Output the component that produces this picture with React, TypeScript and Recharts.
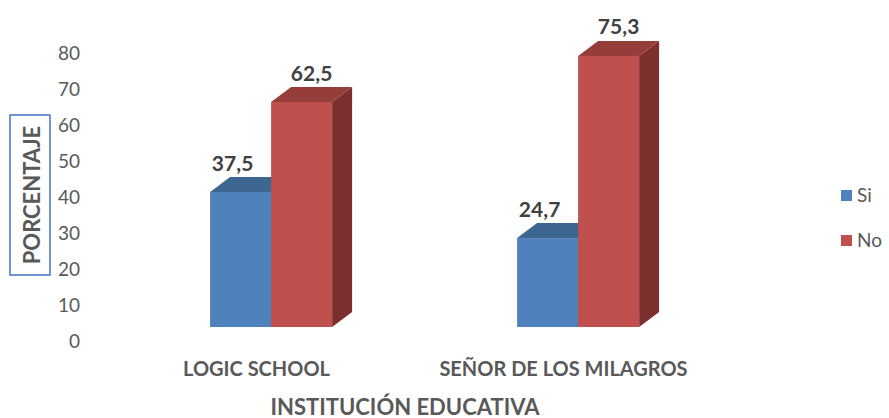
import React from "react";
import { BarChart, Bar, XAxis, YAxis, Legend, LabelList } from "recharts";

const CATEGORIES = ["LOGIC SCHOOL", "SEÑOR DE LOS MILAGROS"];
const SI_VALUES = [37.5, 24.7];
const NO_VALUES = [62.5, 75.3];
const Y_TICKS = [0, 10, 20, 30, 40, 50, 60, 70, 80];

const FONT = "Lato, 'Open Sans', sans-serif";
const INK = "#595959";
const INK_DARK = "#404040";

const BLUE = { front: "#4F81BD", top: "#3D6691", side: "#2F5075" };
const RED = { front: "#C0504D", top: "#953D3B", side: "#7B302E" };

const DEPTH_X = 20;
const DEPTH_Y = 15;

const data = CATEGORIES.map((name, i) => ({ name, Si: SI_VALUES[i], No: NO_VALUES[i] }));

function bar3d(c: { front: string; top: string; side: string }) {
  return (props: any) => {
    const { x, y, width, height } = props;
    const r = x + width;
    const b = y + height;
    return (
      <g>
        <polygon
          points={`${r},${y} ${r + DEPTH_X},${y - DEPTH_Y} ${r + DEPTH_X},${b - DEPTH_Y} ${r},${b}`}
          fill={c.side}
        />
        <polygon
          points={`${x},${y} ${x + DEPTH_X},${y - DEPTH_Y} ${r + DEPTH_X},${y - DEPTH_Y} ${r},${y}`}
          fill={c.top}
        />
        <rect x={x} y={y} width={width} height={height} fill={c.front} />
      </g>
    );
  };
}

function valueLabel(shift: number) {
  return (props: any) => {
    const { x, y, width, value } = props;
    return (
      <text
        x={x + width / 2 + shift}
        y={y - 30}
        textAnchor="middle"
        dominantBaseline="central"
        fontFamily={FONT}
        fontWeight="bold"
        fontSize={21}
        fill={INK_DARK}
      >
        {String(value).replace(".", ",")}
      </text>
    );
  };
}

const YTick = ({ y, payload }: any) => (
  <text x={80} y={y + 13} textAnchor="end" dominantBaseline="central" fontFamily={FONT} fontSize={19} fill={INK}>
    {payload.value}
  </text>
);

const XTick = ({ x, y, payload }: any) => (
  <text
    x={x - 15}
    y={y + 41}
    textAnchor="middle"
    dominantBaseline="central"
    fontFamily={FONT}
    fontWeight="bold"
    fontSize={20}
    fill={INK}
  >
    {payload.value}
  </text>
);

const yTitle = () => (
  <g>
    <rect x={10} y={115} width={40} height={160} fill="none" stroke="#4472C4" strokeWidth={1.5} />
    <text
      x={31}
      y={195}
      transform="rotate(-90, 31, 195)"
      textAnchor="middle"
      dominantBaseline="central"
      fontFamily={FONT}
      fontWeight="bold"
      fontSize={22}
      fill={INK}
    >
      PORCENTAJE
    </text>
  </g>
);

const xTitle = (props: any) => {
  const vb = props.viewBox;
  return (
    <text
      x={vb.x + vb.width / 2 - 20}
      y={vb.y + 79}
      textAnchor="middle"
      dominantBaseline="central"
      fontFamily={FONT}
      fontWeight="bold"
      fontSize={22}
      fill={INK}
    >
      INSTITUCIÓN EDUCATIVA
    </text>
  );
};

const legendItems = [
  { name: "Si", color: BLUE.front },
  { name: "No", color: RED.front },
];

const renderLegend = () => (
  <div style={{ width: 48 }}>
    {legendItems.map((it, i) => (
      <div key={it.name} style={{ display: "flex", alignItems: "center", height: 22, marginTop: i ? 23 : 0 }}>
        <span style={{ width: 11, height: 11, background: it.color, display: "inline-block" }} />
        <span style={{ marginLeft: 5, fontFamily: FONT, fontSize: 19, color: INK, lineHeight: "22px" }}>{it.name}</span>
      </div>
    ))}
  </div>
);

export default function App() {
  return (
    <div style={{ position: "absolute", left: 0, top: 0, background: "#fff" }}>
      <BarChart
        width={889}
        height={418}
        data={data}
        margin={{ top: 39, right: 109, left: 0, bottom: 0 }}
        barCategoryGap="30%"
        barGap={0}
      >
        <XAxis
          dataKey="name"
          height={91}
          axisLine={false}
          tickLine={false}
          tickSize={0}
          tickMargin={0}
          tick={<XTick />}
          label={xTitle}
        />
        <YAxis
          width={118}
          domain={[0, 80]}
          ticks={Y_TICKS}
          axisLine={false}
          tickLine={false}
          tick={<YTick />}
          label={yTitle}
        />
        <Legend
          layout="vertical"
          align="right"
          verticalAlign="middle"
          content={renderLegend}
          wrapperStyle={{ left: 841, top: 184, width: 48 }}
        />
        <Bar dataKey="Si" shape={bar3d(BLUE)} isAnimationActive={false}>
          <LabelList dataKey="Si" content={valueLabel(-8)} />
        </Bar>
        <Bar dataKey="No" shape={bar3d(RED)} isAnimationActive={false}>
          <LabelList dataKey="No" content={valueLabel(10)} />
        </Bar>
      </BarChart>
    </div>
  );
}
